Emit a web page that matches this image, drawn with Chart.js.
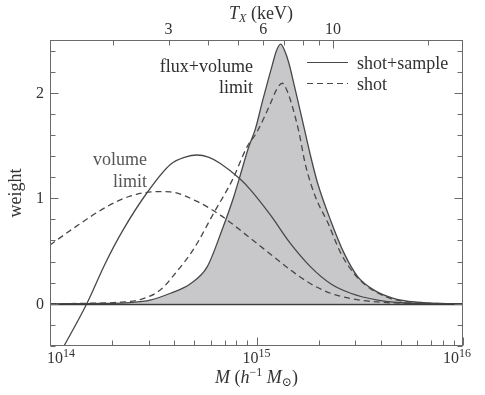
<!DOCTYPE html>
<html>
<head>
<title>Weight vs mass</title>
<script src="https://cdn.jsdelivr.net/npm/chart.js"></script>
<style>
  body { margin: 0; background: #fff; }
</style>
</head>
<body>
<canvas id="weightChart" width="485" height="395"></canvas>
<script>
// log10 M (h^-1 Msun) of each read point, and the weight at that point
const volLogM = [14.000, 14.065, 14.178, 14.267, 14.354, 14.469, 14.583, 14.655, 14.712, 14.767, 14.825, 14.922, 14.971, 15.068, 15.165, 15.262, 15.359, 15.456, 15.586, 15.699, 15.845, 16.000];
const volShotSample = [-0.64, -0.41, 0.00, 0.38, 0.70, 1.05, 1.32, 1.39, 1.41, 1.39, 1.33, 1.18, 1.08, 0.84, 0.57, 0.35, 0.19, 0.10, 0.035, 0.01, 0.002, 0];

const volShotLogM = [14.000, 14.113, 14.275, 14.388, 14.518, 14.583, 14.712, 14.825, 14.971, 15.068, 15.165, 15.262, 15.359, 15.456, 15.602, 15.796, 16.000];
const volShot = [0.557, 0.715, 0.92, 1.02, 1.063, 1.06, 0.97, 0.84, 0.62, 0.47, 0.32, 0.19, 0.10, 0.05, 0.015, 0.003, 0];

const fluxLogM = [14.000, 14.243, 14.388, 14.485, 14.583, 14.680, 14.761, 14.833, 14.890, 14.914, 14.963, 14.995, 15.029, 15.076, 15.097, 15.117, 15.136, 15.157, 15.184, 15.214, 15.262, 15.295, 15.359, 15.424, 15.489, 15.569, 15.667, 15.780, 15.893, 16.000];
const fluxShotSample = [0, 0.003, 0.012, 0.035, 0.10, 0.19, 0.35, 0.70, 1.015, 1.17, 1.49, 1.66, 1.92, 2.26, 2.40, 2.46, 2.40, 2.28, 2.06, 1.81, 1.40, 1.15, 0.79, 0.48, 0.26, 0.13, 0.05, 0.015, 0.003, 0];

const fluxShotLogM = [14.000, 14.194, 14.340, 14.437, 14.534, 14.599, 14.696, 14.793, 14.882, 14.955, 15.000, 15.068, 15.097, 15.125, 15.150, 15.175, 15.204, 15.238, 15.286, 15.345, 15.408, 15.471, 15.539, 15.650, 15.772, 15.893, 16.000];
const fluxShot = [0, 0.005, 0.015, 0.04, 0.13, 0.27, 0.52, 0.86, 1.17, 1.49, 1.62, 1.90, 2.03, 2.09, 2.01, 1.86, 1.64, 1.31, 1.01, 0.77, 0.48, 0.29, 0.16, 0.05, 0.012, 0.002, 0];

// axis ticks
const massDecades = [14, 15, 16];
const massMantissas = [2, 3, 4, 5, 6, 7, 8, 9];
const tempTicks = [2, 3, 4, 5, 6, 7, 8, 9, 10, 20];
const tempMajor = [10];
const tempLabels = [3, 6, 10];
const weightTicks = [-0.4, -0.2, 0, 0.2, 0.4, 0.6, 0.8, 1, 1.2, 1.4, 1.6, 1.8, 2, 2.2, 2.4];
const weightLabels = [0, 1, 2];

const serif = '"Liberation Serif", "DejaVu Serif", serif';
const ink = '#333';
const curveColor = '#484848';

const toPoints = (logM, w) => logM.map((lm, i) => ({ x: Math.pow(10, lm), y: w[i] }));

// draws a row of text pieces (for super/subscripts)
function drawRuns(ctx, runs, x, y, align) {
    let w = 0;
    runs.forEach(r => { ctx.font = r.font; r.w = ctx.measureText(r.text).width; w += r.w; });
    let cx = align === 'center' ? x - w / 2 : align === 'right' ? x - w : x;
    ctx.textAlign = 'left';
    ctx.textBaseline = 'alphabetic';
    runs.forEach(r => { ctx.font = r.font; ctx.fillText(r.text, cx, y + (r.dy || 0)); cx += r.w; });
    return w;
}

function seg(ctx, x1, y1, x2, y2) {
    ctx.beginPath();
    ctx.moveTo(x1, y1);
    ctx.lineTo(x2, y2);
    ctx.stroke();
}

const axisFrame = {
    id: 'axisFrame',
    afterDatasetsDraw(chart) {
        const { ctx, chartArea: a, scales } = chart;
        const x = scales.x, t = scales.t, y = scales.y;
        const L = Math.round(a.left) + 0.5, R = Math.round(a.right) - 0.5;
        const T = Math.round(a.top) + 0.5, B = Math.round(a.bottom) - 0.5;
        ctx.save();

        // zero line
        const y0 = Math.round(y.getPixelForValue(0)) + 0.5;
        ctx.strokeStyle = '#3a3a3a';
        ctx.lineWidth = 1.3;
        seg(ctx, L, y0, R, y0);

        // frame
        ctx.strokeStyle = '#6a6a6a';
        ctx.lineWidth = 1;
        ctx.strokeRect(L, T, R - L, B - T);

        // weight ticks, both sides, pointing in
        weightTicks.forEach(v => {
            const py = Math.round(y.getPixelForValue(v)) + 0.5;
            const len = weightLabels.includes(v) ? 8 : 5;
            seg(ctx, L, py, L + len, py);
            seg(ctx, R, py, R - len, py);
        });

        // mass ticks on the bottom
        massDecades.forEach((d, i) => {
            const px = Math.round(x.getPixelForValue(Math.pow(10, d))) + 0.5;
            seg(ctx, px, B, px, B - 8);
            if (i < massDecades.length - 1) {
                massMantissas.forEach(m => {
                    const qx = Math.round(x.getPixelForValue(m * Math.pow(10, d))) + 0.5;
                    seg(ctx, qx, B, qx, B - 5);
                });
            }
        });

        // temperature ticks on the top
        tempTicks.forEach(v => {
            const px = Math.round(t.getPixelForValue(v)) + 0.5;
            seg(ctx, px, T, px, T + (tempMajor.includes(v) ? 8 : 5));
        });

        ctx.fillStyle = ink;

        // weight labels
        ctx.font = '16px ' + serif;
        ctx.textAlign = 'right';
        ctx.textBaseline = 'middle';
        weightLabels.forEach(v => ctx.fillText(String(v), 44, y.getPixelForValue(v) + 1));

        // temperature labels
        ctx.textAlign = 'center';
        ctx.textBaseline = 'alphabetic';
        tempLabels.forEach(v => ctx.fillText(String(v), t.getPixelForValue(v), 34));

        // mass labels 10^n, kept inside the figure
        massDecades.forEach(d => {
            const runs = [
                { text: '10', font: '16px ' + serif },
                { text: String(d), font: '12px ' + serif, dy: -6 }
            ];
            let w = 0;
            runs.forEach(r => { ctx.font = r.font; w += ctx.measureText(r.text).width; });
            const px = x.getPixelForValue(Math.pow(10, d));
            const left = Math.min(Math.max(px - w / 2, 47), 471 - w);
            drawRuns(ctx, runs, left, 363, 'left');
        });

        // axis titles
        drawRuns(ctx, [
            { text: 'M', font: 'italic 18px ' + serif },
            { text: ' (', font: '18px ' + serif },
            { text: 'h', font: 'italic 18px ' + serif },
            { text: '\u22121', font: '12px ' + serif, dy: -7 },
            { text: ' ', font: '18px ' + serif },
            { text: 'M', font: 'italic 18px ' + serif },
            { text: '\u2299', font: '12px ' + serif, dy: 3 },
            { text: ')', font: '18px ' + serif }
        ], (a.left + a.right) / 2, 383, 'center');

        drawRuns(ctx, [
            { text: 'T', font: 'italic 18px ' + serif },
            { text: 'X', font: 'italic 12px ' + serif, dy: 3 },
            { text: ' (keV)', font: '18px ' + serif }
        ], 261, 19, 'center');

        ctx.save();
        ctx.translate(21, (a.top + a.bottom) / 2);
        ctx.rotate(-Math.PI / 2);
        ctx.font = '18px ' + serif;
        ctx.textAlign = 'center';
        ctx.textBaseline = 'alphabetic';
        ctx.fillText('weight', 0, 0);
        ctx.restore();

        // legend
        ctx.strokeStyle = curveColor;
        ctx.lineWidth = 1.2;
        seg(ctx, 307, 62.5, 348, 62.5);
        ctx.setLineDash([6, 4]);
        seg(ctx, 307, 83.5, 348, 83.5);
        ctx.setLineDash([]);
        ctx.font = '18px ' + serif;
        ctx.textAlign = 'left';
        ctx.fillText('shot+sample', 357, 68.5);
        ctx.fillText('shot', 357, 89.5);

        // curve notes
        ctx.textAlign = 'right';
        ctx.fillStyle = '#2e2e2e';
        ctx.fillText('flux+volume', 253, 72);
        ctx.fillText('limit', 253, 93);
        ctx.fillStyle = '#555';
        ctx.fillText('volume', 147, 165);
        ctx.fillText('limit', 147, 186.5);

        ctx.restore();
    }
};

const line = (data, dash, order) => ({
    data: data,
    borderColor: curveColor,
    borderWidth: 1.3,
    borderDash: dash,
    pointRadius: 0,
    fill: false,
    cubicInterpolationMode: 'monotone',
    order: order
});

const fluxFilled = line(toPoints(fluxLogM, fluxShotSample), [], 4);
fluxFilled.fill = 'origin';
fluxFilled.backgroundColor = '#c8c8ca';

const chart = new Chart(document.getElementById('weightChart'), {
    type: 'line',
    data: {
        datasets: [
            fluxFilled,
            line(toPoints(fluxShotLogM, fluxShot), [6, 4], 3),
            line(toPoints(volLogM, volShotSample), [], 2),
            line(toPoints(volShotLogM, volShot), [6, 4], 1)
        ]
    },
    options: {
        responsive: false,
        animation: false,
        events: [],
        layout: { padding: { left: 50, top: 40, right: 22, bottom: 49 } },
        plugins: { legend: { display: false }, tooltip: { enabled: false } },
        scales: {
            x: { type: 'logarithmic', min: 1e14, max: 1e16, display: false },
            t: { type: 'logarithmic', axis: 'x', position: 'top', min: 1.26, max: 25.9, display: false },
            y: { type: 'linear', min: -0.4, max: 2.5, display: false }
        }
    },
    plugins: [axisFrame]
});
</script>
</body>
</html>
